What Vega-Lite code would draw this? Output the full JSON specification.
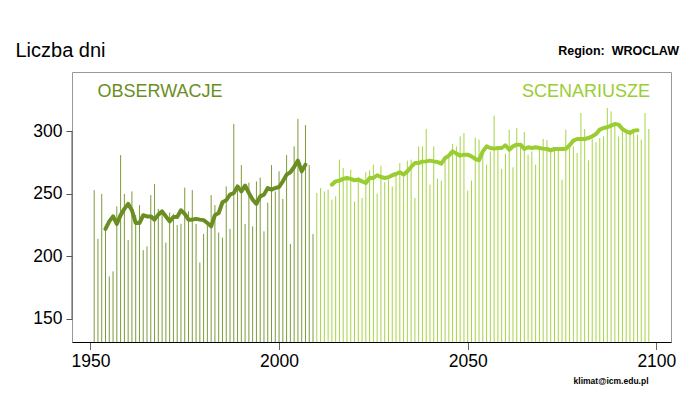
{
  "$schema": "https://vega.github.io/schema/vega-lite/v6.json",
  "width": 599,
  "height": 270,
  "autosize": {"type": "none"},
  "padding": {"left": 72, "top": 72, "right": 29, "bottom": 58},
  "background": "white",
  "config": {
    "font": "Liberation Sans",
    "view": {"stroke": "#999999", "strokeWidth": 1},
    "axis": {"grid": false, "labelFont": "Liberation Sans", "titleFont": "Liberation Sans", "labelColor": "black", "titleColor": "black"}
  },
  "title": {
    "text": "Region:\u00a0 WROCLAW",
    "anchor": "end",
    "frame": "group",
    "fontSize": 12.5,
    "fontWeight": "bold",
    "font": "Liberation Sans",
    "color": "black",
    "offset": -17,
    "dx": 8
  },
  "datasets": {
    "bars": [
      {"year": 1951, "days": 253, "series": "obs"},
      {"year": 1952, "days": 214, "series": "obs"},
      {"year": 1953, "days": 250, "series": "obs"},
      {"year": 1954, "days": 222, "series": "obs"},
      {"year": 1955, "days": 184, "series": "obs"},
      {"year": 1956, "days": 188, "series": "obs"},
      {"year": 1957, "days": 240, "series": "obs"},
      {"year": 1958, "days": 281, "series": "obs"},
      {"year": 1959, "days": 250, "series": "obs"},
      {"year": 1960, "days": 213, "series": "obs"},
      {"year": 1961, "days": 252, "series": "obs"},
      {"year": 1962, "days": 233, "series": "obs"},
      {"year": 1963, "days": 241, "series": "obs"},
      {"year": 1964, "days": 205, "series": "obs"},
      {"year": 1965, "days": 208, "series": "obs"},
      {"year": 1966, "days": 249, "series": "obs"},
      {"year": 1967, "days": 258, "series": "obs"},
      {"year": 1968, "days": 238, "series": "obs"},
      {"year": 1969, "days": 237, "series": "obs"},
      {"year": 1970, "days": 211, "series": "obs"},
      {"year": 1971, "days": 235, "series": "obs"},
      {"year": 1972, "days": 234, "series": "obs"},
      {"year": 1973, "days": 225, "series": "obs"},
      {"year": 1974, "days": 226, "series": "obs"},
      {"year": 1975, "days": 255, "series": "obs"},
      {"year": 1976, "days": 236, "series": "obs"},
      {"year": 1977, "days": 253, "series": "obs"},
      {"year": 1978, "days": 226, "series": "obs"},
      {"year": 1979, "days": 195, "series": "obs"},
      {"year": 1980, "days": 218, "series": "obs"},
      {"year": 1981, "days": 228, "series": "obs"},
      {"year": 1982, "days": 249, "series": "obs"},
      {"year": 1983, "days": 241, "series": "obs"},
      {"year": 1984, "days": 219, "series": "obs"},
      {"year": 1985, "days": 215, "series": "obs"},
      {"year": 1986, "days": 256, "series": "obs"},
      {"year": 1987, "days": 222, "series": "obs"},
      {"year": 1988, "days": 306, "series": "obs"},
      {"year": 1989, "days": 256, "series": "obs"},
      {"year": 1990, "days": 273, "series": "obs"},
      {"year": 1991, "days": 226, "series": "obs"},
      {"year": 1992, "days": 259, "series": "obs"},
      {"year": 1993, "days": 224, "series": "obs"},
      {"year": 1994, "days": 260, "series": "obs"},
      {"year": 1995, "days": 263, "series": "obs"},
      {"year": 1996, "days": 220, "series": "obs"},
      {"year": 1997, "days": 243, "series": "obs"},
      {"year": 1998, "days": 273, "series": "obs"},
      {"year": 1999, "days": 252, "series": "obs"},
      {"year": 2000, "days": 268, "series": "obs"},
      {"year": 2001, "days": 246, "series": "obs"},
      {"year": 2002, "days": 281, "series": "obs"},
      {"year": 2003, "days": 210, "series": "obs"},
      {"year": 2004, "days": 288, "series": "obs"},
      {"year": 2005, "days": 310, "series": "obs"},
      {"year": 2006, "days": 270, "series": "obs"},
      {"year": 2007, "days": 305, "series": "obs"},
      {"year": 2008, "days": 273, "series": "obs"},
      {"year": 2009, "days": 218, "series": "obs"},
      {"year": 2010, "days": 250.7, "series": "scen"},
      {"year": 2011, "days": 254.7, "series": "scen"},
      {"year": 2012, "days": 252, "series": "scen"},
      {"year": 2013, "days": 253.4, "series": "scen"},
      {"year": 2014, "days": 245.4, "series": "scen"},
      {"year": 2015, "days": 248, "series": "scen"},
      {"year": 2016, "days": 277.4, "series": "scen"},
      {"year": 2017, "days": 270.7, "series": "scen"},
      {"year": 2018, "days": 261.4, "series": "scen"},
      {"year": 2019, "days": 269.4, "series": "scen"},
      {"year": 2020, "days": 244, "series": "scen"},
      {"year": 2021, "days": 263.5, "series": "scen"},
      {"year": 2022, "days": 246.7, "series": "scen"},
      {"year": 2023, "days": 267.3, "series": "scen"},
      {"year": 2024, "days": 268.9, "series": "scen"},
      {"year": 2025, "days": 273.4, "series": "scen"},
      {"year": 2026, "days": 250.2, "series": "scen"},
      {"year": 2027, "days": 272.6, "series": "scen"},
      {"year": 2028, "days": 259.3, "series": "scen"},
      {"year": 2029, "days": 261.4, "series": "scen"},
      {"year": 2030, "days": 256, "series": "scen"},
      {"year": 2031, "days": 267.3, "series": "scen"},
      {"year": 2032, "days": 274.7, "series": "scen"},
      {"year": 2033, "days": 263.5, "series": "scen"},
      {"year": 2034, "days": 276.6, "series": "scen"},
      {"year": 2035, "days": 277.4, "series": "scen"},
      {"year": 2036, "days": 246.7, "series": "scen"},
      {"year": 2037, "days": 288, "series": "scen"},
      {"year": 2038, "days": 288, "series": "scen"},
      {"year": 2039, "days": 302, "series": "scen"},
      {"year": 2040, "days": 257.4, "series": "scen"},
      {"year": 2041, "days": 288, "series": "scen"},
      {"year": 2042, "days": 262, "series": "scen"},
      {"year": 2043, "days": 260.6, "series": "scen"},
      {"year": 2044, "days": 277, "series": "scen"},
      {"year": 2045, "days": 281, "series": "scen"},
      {"year": 2046, "days": 290, "series": "scen"},
      {"year": 2047, "days": 288, "series": "scen"},
      {"year": 2048, "days": 296, "series": "scen"},
      {"year": 2049, "days": 298.7, "series": "scen"},
      {"year": 2050, "days": 252.6, "series": "scen"},
      {"year": 2051, "days": 260.6, "series": "scen"},
      {"year": 2052, "days": 295, "series": "scen"},
      {"year": 2053, "days": 293.4, "series": "scen"},
      {"year": 2054, "days": 285.4, "series": "scen"},
      {"year": 2055, "days": 273.4, "series": "scen"},
      {"year": 2056, "days": 284, "series": "scen"},
      {"year": 2057, "days": 312.6, "series": "scen"},
      {"year": 2058, "days": 288, "series": "scen"},
      {"year": 2059, "days": 270, "series": "scen"},
      {"year": 2060, "days": 282.2, "series": "scen"},
      {"year": 2061, "days": 301.4, "series": "scen"},
      {"year": 2062, "days": 271.3, "series": "scen"},
      {"year": 2063, "days": 302.7, "series": "scen"},
      {"year": 2064, "days": 290.7, "series": "scen"},
      {"year": 2065, "days": 299.5, "series": "scen"},
      {"year": 2066, "days": 281.4, "series": "scen"},
      {"year": 2067, "days": 284, "series": "scen"},
      {"year": 2068, "days": 273.4, "series": "scen"},
      {"year": 2069, "days": 285.4, "series": "scen"},
      {"year": 2070, "days": 294, "series": "scen"},
      {"year": 2071, "days": 293, "series": "scen"},
      {"year": 2072, "days": 286.7, "series": "scen"},
      {"year": 2073, "days": 286.7, "series": "scen"},
      {"year": 2074, "days": 285.4, "series": "scen"},
      {"year": 2075, "days": 261.4, "series": "scen"},
      {"year": 2076, "days": 301.4, "series": "scen"},
      {"year": 2077, "days": 290.7, "series": "scen"},
      {"year": 2078, "days": 288, "series": "scen"},
      {"year": 2079, "days": 282.7, "series": "scen"},
      {"year": 2080, "days": 314.7, "series": "scen"},
      {"year": 2081, "days": 301.9, "series": "scen"},
      {"year": 2082, "days": 276.9, "series": "scen"},
      {"year": 2083, "days": 293.9, "series": "scen"},
      {"year": 2084, "days": 291.3, "series": "scen"},
      {"year": 2085, "days": 294.7, "series": "scen"},
      {"year": 2086, "days": 296, "series": "scen"},
      {"year": 2087, "days": 318.7, "series": "scen"},
      {"year": 2088, "days": 316, "series": "scen"},
      {"year": 2089, "days": 305.4, "series": "scen"},
      {"year": 2090, "days": 296, "series": "scen"},
      {"year": 2091, "days": 304, "series": "scen"},
      {"year": 2092, "days": 298.7, "series": "scen"},
      {"year": 2093, "days": 301.4, "series": "scen"},
      {"year": 2094, "days": 301.9, "series": "scen"},
      {"year": 2095, "days": 297.4, "series": "scen"},
      {"year": 2096, "days": 293.4, "series": "scen"},
      {"year": 2097, "days": 314.7, "series": "scen"},
      {"year": 2098, "days": 301.9, "series": "scen"}
    ],
    "trend": [
      {"year": 1954, "avg": 222, "series": "obs"},
      {"year": 1955, "avg": 228, "series": "obs"},
      {"year": 1956, "avg": 232, "series": "obs"},
      {"year": 1957, "avg": 226, "series": "obs"},
      {"year": 1958, "avg": 233, "series": "obs"},
      {"year": 1959, "avg": 238, "series": "obs"},
      {"year": 1960, "avg": 242, "series": "obs"},
      {"year": 1961, "avg": 236.9, "series": "obs"},
      {"year": 1962, "avg": 226.7, "series": "obs"},
      {"year": 1963, "avg": 226.7, "series": "obs"},
      {"year": 1964, "avg": 232.9, "series": "obs"},
      {"year": 1965, "avg": 232, "series": "obs"},
      {"year": 1966, "avg": 232, "series": "obs"},
      {"year": 1967, "avg": 229.4, "series": "obs"},
      {"year": 1968, "avg": 233.4, "series": "obs"},
      {"year": 1969, "avg": 236, "series": "obs"},
      {"year": 1970, "avg": 232, "series": "obs"},
      {"year": 1971, "avg": 228, "series": "obs"},
      {"year": 1972, "avg": 231.5, "series": "obs"},
      {"year": 1973, "avg": 231.5, "series": "obs"},
      {"year": 1974, "avg": 236.9, "series": "obs"},
      {"year": 1975, "avg": 234, "series": "obs"},
      {"year": 1976, "avg": 229.4, "series": "obs"},
      {"year": 1977, "avg": 229.4, "series": "obs"},
      {"year": 1978, "avg": 230, "series": "obs"},
      {"year": 1979, "avg": 229.4, "series": "obs"},
      {"year": 1980, "avg": 229, "series": "obs"},
      {"year": 1981, "avg": 226.7, "series": "obs"},
      {"year": 1982, "avg": 224, "series": "obs"},
      {"year": 1983, "avg": 233, "series": "obs"},
      {"year": 1984, "avg": 234.7, "series": "obs"},
      {"year": 1985, "avg": 243.3, "series": "obs"},
      {"year": 1986, "avg": 244.9, "series": "obs"},
      {"year": 1987, "avg": 249.4, "series": "obs"},
      {"year": 1988, "avg": 250.7, "series": "obs"},
      {"year": 1989, "avg": 256, "series": "obs"},
      {"year": 1990, "avg": 252, "series": "obs"},
      {"year": 1991, "avg": 256.6, "series": "obs"},
      {"year": 1992, "avg": 250.7, "series": "obs"},
      {"year": 1993, "avg": 245.4, "series": "obs"},
      {"year": 1994, "avg": 242, "series": "obs"},
      {"year": 1995, "avg": 248, "series": "obs"},
      {"year": 1996, "avg": 249.4, "series": "obs"},
      {"year": 1997, "avg": 254.7, "series": "obs"},
      {"year": 1998, "avg": 253.4, "series": "obs"},
      {"year": 1999, "avg": 254.7, "series": "obs"},
      {"year": 2000, "avg": 255.5, "series": "obs"},
      {"year": 2001, "avg": 260, "series": "obs"},
      {"year": 2002, "avg": 265.4, "series": "obs"},
      {"year": 2003, "avg": 267.3, "series": "obs"},
      {"year": 2004, "avg": 271.5, "series": "obs"},
      {"year": 2005, "avg": 276.6, "series": "obs"},
      {"year": 2006, "avg": 268, "series": "obs"},
      {"year": 2007, "avg": 273.4, "series": "obs"},
      {"year": 2014, "avg": 257.4, "series": "scen"},
      {"year": 2015, "avg": 260, "series": "scen"},
      {"year": 2016, "avg": 260.6, "series": "scen"},
      {"year": 2017, "avg": 262, "series": "scen"},
      {"year": 2018, "avg": 262.7, "series": "scen"},
      {"year": 2019, "avg": 262, "series": "scen"},
      {"year": 2020, "avg": 260.9, "series": "scen"},
      {"year": 2021, "avg": 261.4, "series": "scen"},
      {"year": 2022, "avg": 260, "series": "scen"},
      {"year": 2023, "avg": 258.7, "series": "scen"},
      {"year": 2024, "avg": 262.7, "series": "scen"},
      {"year": 2025, "avg": 262.7, "series": "scen"},
      {"year": 2026, "avg": 264.9, "series": "scen"},
      {"year": 2027, "avg": 263.5, "series": "scen"},
      {"year": 2028, "avg": 262.7, "series": "scen"},
      {"year": 2029, "avg": 263.3, "series": "scen"},
      {"year": 2030, "avg": 264.9, "series": "scen"},
      {"year": 2031, "avg": 265.9, "series": "scen"},
      {"year": 2032, "avg": 267.3, "series": "scen"},
      {"year": 2033, "avg": 265.4, "series": "scen"},
      {"year": 2034, "avg": 268, "series": "scen"},
      {"year": 2035, "avg": 271.5, "series": "scen"},
      {"year": 2036, "avg": 274.7, "series": "scen"},
      {"year": 2037, "avg": 274.7, "series": "scen"},
      {"year": 2038, "avg": 275.8, "series": "scen"},
      {"year": 2039, "avg": 276, "series": "scen"},
      {"year": 2040, "avg": 276.6, "series": "scen"},
      {"year": 2041, "avg": 276, "series": "scen"},
      {"year": 2042, "avg": 275.5, "series": "scen"},
      {"year": 2043, "avg": 274.2, "series": "scen"},
      {"year": 2044, "avg": 278.7, "series": "scen"},
      {"year": 2045, "avg": 280.6, "series": "scen"},
      {"year": 2046, "avg": 284, "series": "scen"},
      {"year": 2047, "avg": 282.2, "series": "scen"},
      {"year": 2048, "avg": 280.6, "series": "scen"},
      {"year": 2049, "avg": 281.4, "series": "scen"},
      {"year": 2050, "avg": 281.4, "series": "scen"},
      {"year": 2051, "avg": 280, "series": "scen"},
      {"year": 2052, "avg": 278, "series": "scen"},
      {"year": 2053, "avg": 276.9, "series": "scen"},
      {"year": 2054, "avg": 284, "series": "scen"},
      {"year": 2055, "avg": 288, "series": "scen"},
      {"year": 2056, "avg": 286.7, "series": "scen"},
      {"year": 2057, "avg": 286.2, "series": "scen"},
      {"year": 2058, "avg": 286.7, "series": "scen"},
      {"year": 2059, "avg": 286.7, "series": "scen"},
      {"year": 2060, "avg": 288.9, "series": "scen"},
      {"year": 2061, "avg": 285.4, "series": "scen"},
      {"year": 2062, "avg": 288, "series": "scen"},
      {"year": 2063, "avg": 289.4, "series": "scen"},
      {"year": 2064, "avg": 289.4, "series": "scen"},
      {"year": 2065, "avg": 285.9, "series": "scen"},
      {"year": 2066, "avg": 287.3, "series": "scen"},
      {"year": 2067, "avg": 286.7, "series": "scen"},
      {"year": 2068, "avg": 287.3, "series": "scen"},
      {"year": 2069, "avg": 286.7, "series": "scen"},
      {"year": 2070, "avg": 286.2, "series": "scen"},
      {"year": 2071, "avg": 285.9, "series": "scen"},
      {"year": 2072, "avg": 284.9, "series": "scen"},
      {"year": 2073, "avg": 285.9, "series": "scen"},
      {"year": 2074, "avg": 285.9, "series": "scen"},
      {"year": 2075, "avg": 285.9, "series": "scen"},
      {"year": 2076, "avg": 286, "series": "scen"},
      {"year": 2077, "avg": 288.9, "series": "scen"},
      {"year": 2078, "avg": 292.6, "series": "scen"},
      {"year": 2079, "avg": 293.9, "series": "scen"},
      {"year": 2080, "avg": 293.9, "series": "scen"},
      {"year": 2081, "avg": 293.9, "series": "scen"},
      {"year": 2082, "avg": 294.7, "series": "scen"},
      {"year": 2083, "avg": 296, "series": "scen"},
      {"year": 2084, "avg": 297.9, "series": "scen"},
      {"year": 2085, "avg": 301.4, "series": "scen"},
      {"year": 2086, "avg": 302.7, "series": "scen"},
      {"year": 2087, "avg": 303.3, "series": "scen"},
      {"year": 2088, "avg": 304.6, "series": "scen"},
      {"year": 2089, "avg": 305.9, "series": "scen"},
      {"year": 2090, "avg": 305.4, "series": "scen"},
      {"year": 2091, "avg": 301.9, "series": "scen"},
      {"year": 2092, "avg": 300, "series": "scen"},
      {"year": 2093, "avg": 298.7, "series": "scen"},
      {"year": 2094, "avg": 300.6, "series": "scen"},
      {"year": 2095, "avg": 300.9, "series": "scen"}
    ],
    "one": [{}]
  },
  "layer": [
    {
      "data": {"name": "bars"},
      "mark": {"type": "rule", "strokeWidth": 1, "clip": true},
      "encoding": {
        "x": {
          "field": "year", "type": "quantitative",
          "scale": {"domain": [1945.12, 2103.88], "nice": false, "zero": false},
          "axis": {
            "values": [1950, 2000, 2050, 2100], "format": "d",
            "labelFontSize": 17.5, "tickSize": 7.5, "labelPadding": 3, "tickColor": "#666666",
            "domainColor": "black", "labelFlush": false,
            "title": "klimat@icm.edu.pl", "titleFontSize": 8.5, "titleFontWeight": "bold",
            "titleAlign": "right", "titleAnchor": null, "titleX": 576, "titleY": 41, "titleBaseline": "alphabetic"
          }
        },
        "y": {
          "field": "days", "type": "quantitative",
          "scale": {"domain": [131.5, 347.5], "nice": false, "zero": false},
          "axis": {
            "values": [150, 200, 250, 300],
            "labelFontSize": 17.5, "tickSize": 6, "labelPadding": 4, "tickColor": "#555555",
            "domain": false,
            "title": "Liczba dni", "titleAngle": 0, "titleFontSize": 20, "titleFontWeight": "normal",
            "titleAlign": "left", "titleBaseline": "alphabetic", "titleX": -57, "titleY": -16
          }
        },
        "y2": {"datum": 131.5},
        "color": {
          "field": "series", "type": "nominal",
          "scale": {"domain": ["obs", "scen"], "range": ["#7d9a3a", "#a6d446"]},
          "legend": null
        }
      }
    },
    {
      "data": {"name": "trend"},
      "mark": {"type": "line", "strokeWidth": 4, "strokeCap": "round", "strokeJoin": "round"},
      "encoding": {
        "x": {"field": "year", "type": "quantitative"},
        "y": {"field": "avg", "type": "quantitative"},
        "detail": {"field": "series"},
        "color": {
          "field": "series", "type": "nominal",
          "scale": {"domain": ["obs", "scen"], "range": ["#6b8e23", "#9acd32"]},
          "legend": null
        }
      }
    },
    {
      "data": {"name": "one"},
      "mark": {"type": "rule", "color": "#555555", "strokeWidth": 1},
      "encoding": {
        "x": {"datum": 1945.12},
        "y": {"datum": 150},
        "y2": {"datum": 300}
      }
    },
    {
      "data": {"name": "one"},
      "mark": {"type": "text", "align": "left", "baseline": "middle", "fontSize": 18, "font": "Liberation Sans", "color": "#6b8e23"},
      "encoding": {
        "x": {"datum": 1951.9},
        "y": {"datum": 331.8},
        "text": {"value": "OBSERWACJE"}
      }
    },
    {
      "data": {"name": "one"},
      "mark": {"type": "text", "align": "right", "baseline": "middle", "fontSize": 18, "font": "Liberation Sans", "color": "#9acd32"},
      "encoding": {
        "x": {"datum": 2098.3},
        "y": {"datum": 331.8},
        "text": {"value": "SCENARIUSZE"}
      }
    }
  ],
  "resolve": {"scale": {"color": "independent"}}
}
